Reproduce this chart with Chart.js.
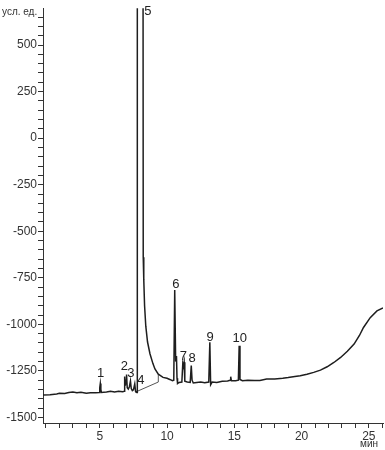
<!DOCTYPE html>
<html>
<head>
<meta charset="utf-8">
<script src="https://cdn.jsdelivr.net/npm/chart.js@4.4.1/dist/chart.umd.min.js"></script>
<style>
  html, body { margin: 0; padding: 0; background: #fff; }
  #wrap { width: 385px; height: 450px; }
</style>
</head>
<body>
<div id="wrap"><canvas id="chrom" width="385" height="450"></canvas></div>
<script>
// chromatogram: retention time (min) vs detector signal (arb. units)
const SIGNAL_T = [
  0.78, 1.3, 1.8, 2.0, 2.4, 2.7, 3.0, 3.3, 3.6, 4.0, 4.3, 4.7, 4.95,
  5.0, 5.04, 5.08, 5.12, 5.5, 5.8, 6.1, 6.4, 6.7, 6.82,
  6.85, 6.9, 6.95, 6.99, 7.04, 7.12, 7.2, 7.28, 7.34, 7.42, 7.5, 7.6, 7.66, 7.75,
  7.78, 7.79, 8.21, 8.23, 8.27, 8.33, 8.42, 8.55, 8.73, 8.95, 9.1, 9.35, 9.7, 10.0, 10.2, 10.4, 10.5,
  10.57, 10.64, 10.7, 10.74, 10.78, 10.9, 11.1,
  11.17, 11.22, 11.27, 11.32, 11.5, 11.72, 11.8, 11.86, 11.95, 12.2, 12.5, 12.8, 13.1,
  13.18, 13.24, 13.35, 13.7, 14.1, 14.5, 14.68, 14.73, 14.78, 15.1, 15.3,
  15.36, 15.42, 15.6, 16.0, 16.5, 16.9, 17.4, 18.0, 18.6, 19.0, 19.5, 19.9,
  20.4, 20.9, 21.4, 21.9, 22.4, 22.9, 23.4, 23.9, 24.3, 24.6, 25.1, 25.6, 26.05
];
const SIGNAL_V = [
  -1380, -1378, -1374, -1370, -1372, -1366, -1364, -1368, -1365, -1370, -1367, -1368, -1366,
  -1340, -1318, -1350, -1366, -1364, -1360, -1364, -1360, -1362, -1360,
  -1280, -1330, -1300, -1270, -1340, -1348, -1335, -1305, -1345, -1356, -1352, -1320, -1360, -1366,
  -1366, 1500, 1500, -640, -760, -900, -1010, -1095, -1158, -1211, -1240, -1268, -1285, -1290, -1296, -1303, -1300,
  -816, -1200, -1170, -1290, -1318, -1312, -1310,
  -1210, -1225, -1204, -1305, -1310, -1312, -1222, -1300, -1315, -1312, -1310, -1314, -1310,
  -1097, -1324, -1310, -1312, -1306, -1304, -1300, -1281, -1303, -1303, -1300,
  -1115, -1296, -1303, -1300, -1302, -1302, -1294, -1293, -1290, -1286, -1280, -1276,
  -1268, -1258, -1246, -1228, -1205, -1178, -1145, -1106, -1060, -1017, -964, -928, -912
];

// integration baseline drawn under peaks 4-5
const BASE_T = [7.62, 9.35, 9.35];
const BASE_V = [-1365, -1310, -1268];

// peak numbers and where they sit (data units)
const PEAK_NAMES = ['1', '2', '3', '4', '5', '6', '7', '8', '9', '10'];
const PEAK_T = [5.07, 6.83, 7.31, 8.05, 8.58, 10.66, 11.22, 11.86, 13.2, 15.4];
const PEAK_V = [-1263, -1226, -1263, -1301, 682, -784, -1173, -1183, -1069, -1077];

const Y_UNIT = 'усл. ед.';
const X_UNIT = 'мин';

const X_MIN = 0.78, X_MAX = 26.05;
const Y_MIN = -1530, Y_MAX = 698;

const FONT = '"Liberation Sans", Arial, sans-serif';
const INK = '#333';

function toPoints(xs, ys) {
  return xs.map((x, i) => ({ x, y: ys[i] }));
}

const peakLabels = {
  id: 'peakLabels',
  afterDatasetsDraw(chart) {
    const { ctx, chartArea, scales: { x, y } } = chart;
    ctx.save();
    ctx.fillStyle = '#222';
    ctx.font = '13px ' + FONT;
    ctx.textAlign = 'center';
    ctx.textBaseline = 'middle';
    PEAK_NAMES.forEach((name, i) => {
      ctx.fillText(name, x.getPixelForValue(PEAK_T[i]), y.getPixelForValue(PEAK_V[i]));
    });
    // axis units: signal top left, time under the last tick label
    ctx.font = '10px ' + FONT;
    ctx.fillStyle = INK;
    ctx.textAlign = 'left';
    ctx.fillText(Y_UNIT, 2, chartArea.top + 4);
    ctx.textAlign = 'right';
    ctx.fillText(X_UNIT, chartArea.right - 5, chartArea.bottom + 21);
    ctx.restore();
  }
};

Chart.defaults.font.family = FONT;
Chart.defaults.color = INK;

new Chart(document.getElementById('chrom').getContext('2d'), {
  type: 'line',
  data: {
    datasets: [
      {
        data: toPoints(SIGNAL_T, SIGNAL_V),
        borderColor: '#1e1e1e',
        borderWidth: 1.5,
        pointRadius: 0,
        tension: 0,
      },
      {
        data: toPoints(BASE_T, BASE_V),
        borderColor: '#555',
        borderWidth: 1,
        pointRadius: 0,
        tension: 0,
      }
    ]
  },
  options: {
    responsive: false,
    animation: false,
    parsing: false,
    layout: { padding: { top: 5, right: 2, left: 0, bottom: 0 } },
    plugins: {
      legend: { display: false },
      tooltip: { enabled: false },
    },
    scales: {
      x: {
        type: 'linear',
        min: X_MIN,
        max: X_MAX,
        afterFit: (s) => { s.height = 27; },
        ticks: {
          stepSize: 1,
          includeBounds: false,
          autoSkip: false,
          maxRotation: 0,
          padding: 1,
          font: { size: 12 },
          callback: (v) => (Math.abs(v % 5) < 1e-6 ? String(v) : ''),
        },
        grid: { drawOnChartArea: false, tickLength: 5, color: INK },
        border: { color: INK, width: 1 },
      },
      y: {
        min: Y_MIN,
        max: Y_MAX,
        afterFit: (s) => { s.width = 43; },
        ticks: {
          stepSize: 50,
          includeBounds: false,
          autoSkip: false,
          padding: 1,
          font: { size: 12 },
          callback: (v) => (v % 250 === 0 ? String(v) : ''),
        },
        grid: { drawOnChartArea: false, tickLength: 5, color: INK },
        border: { color: INK, width: 1 },
      }
    }
  },
  plugins: [peakLabels]
});
</script>
</body>
</html>
